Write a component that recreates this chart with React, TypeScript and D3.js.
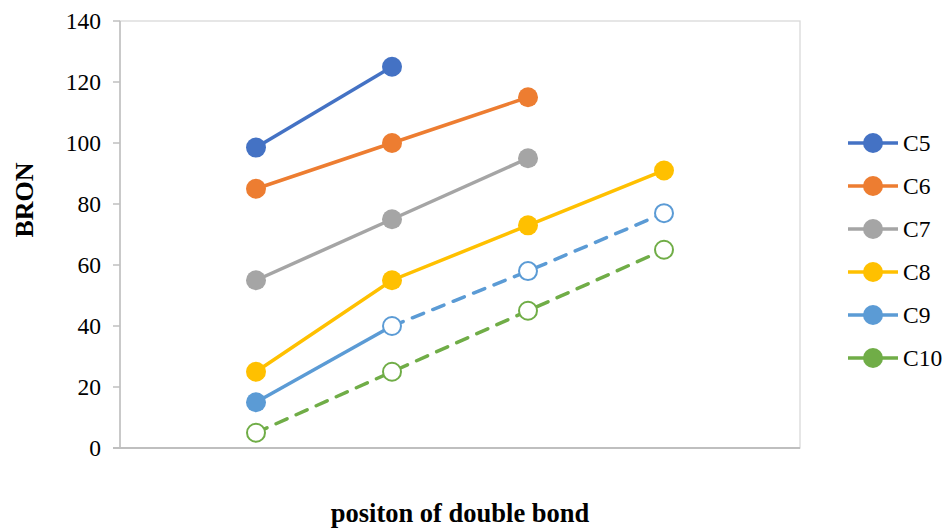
import React from "react";
import * as d3 from "d3";

const positions = [1, 2, 3, 4];
const seriesNames = ["C5", "C6", "C7", "C8", "C9", "C10"];
const c5 = [98.5, 125];
const c6 = [85, 100, 115];
const c7 = [55, 75, 95];
const c8 = [25, 55, 73, 91];
const c9 = [15, 40, 58, 77];
const c10 = [5, 25, 45, 65];
const seriesValues = [c5, c6, c7, c8, c9, c10];
const colors = ["#4472C4", "#ED7D31", "#A5A5A5", "#FFC000", "#5B9BD5", "#70AD47"];
// index from which a series becomes dashed / hollow; -1 = never
const dashedFrom = [-1, -1, -1, -1, 1, 0];
const yTicks = [0, 20, 40, 60, 80, 100, 120, 140];

const W = 946, H = 529;
const left = 120, right = 800, top = 21, bottom = 448;

export default function App() {
  const x = d3.scaleLinear().domain([0, 5]).range([left, right]);
  const y = d3.scaleLinear().domain([0, 140]).range([bottom, top]);
  const line = d3.line<[number, number]>().x(d => x(d[0])).y(d => y(d[1]));
  const font = "'Liberation Serif', 'Times New Roman', serif";

  return (
    <svg width={W} height={H} style={{ position: "absolute", left: 0, top: 0 }}>
      <rect x={0} y={0} width={W} height={H} fill="#fff" />
      <rect x={left} y={top} width={right - left} height={bottom - top} fill="none" stroke="#d9d9d9" strokeWidth={1.3} />
      <line x1={left} x2={left} y1={top} y2={bottom} stroke="#bfbfbf" strokeWidth={1.5} />
      <line x1={left - 7} x2={right} y1={bottom} y2={bottom} stroke="#bfbfbf" strokeWidth={2} />
      {yTicks.map(t => (
        <g key={t}>
          <line x1={left - 7} x2={left} y1={y(t)} y2={y(t)} stroke="#bfbfbf" strokeWidth={1.5} />
          <text x={101} y={y(t)} dy="0.35em" textAnchor="end" fontFamily={font} fontSize={23.5} fill="#000">{t}</text>
        </g>
      ))}
      <text transform={`translate(${33},${200}) rotate(-90)`} textAnchor="middle" fontFamily={font} fontSize={26} fontWeight="bold">BRON</text>
      <text x={460} y={522} textAnchor="middle" fontFamily={font} fontSize={26.5} fontWeight="bold">positon of double bond</text>

      {seriesValues.map((vals, si) => {
        const pts: [number, number][] = vals.map((v, i) => [positions[i], v]);
        const df = dashedFrom[si];
        const solidPts = df < 0 ? pts : pts.slice(0, df + 1);
        const dashPts = df < 0 ? [] : pts.slice(df);
        return (
          <g key={si}>
            {solidPts.length > 1 && (
              <path d={line(solidPts) || ""} fill="none" stroke={colors[si]} strokeWidth={3.5} />
            )}
            {dashPts.length > 1 && (
              <path d={line(dashPts) || ""} fill="none" stroke={colors[si]} strokeWidth={3.5} strokeDasharray="12 10" strokeLinecap="round" />
            )}
            {pts.map((p, i) => {
              const hollow = df >= 0 && i >= df && !(si === 4 && i === 0);
              return hollow ? (
                <circle key={i} cx={x(p[0])} cy={y(p[1])} r={9} fill="#fff" stroke={colors[si]} strokeWidth={2} />
              ) : (
                <circle key={i} cx={x(p[0])} cy={y(p[1])} r={10} fill={colors[si]} />
              );
            })}
          </g>
        );
      })}

      {seriesNames.map((n, i) => {
        const ly = 143 + i * 43;
        return (
          <g key={n}>
            <line x1={848} x2={898} y1={ly} y2={ly} stroke={colors[i]} strokeWidth={3.5} />
            <circle cx={873} cy={ly} r={10} fill={colors[i]} />
            <text x={903} y={ly} dy="0.35em" fontFamily={font} fontSize={23.5}>{n}</text>
          </g>
        );
      })}
    </svg>
  );
}
